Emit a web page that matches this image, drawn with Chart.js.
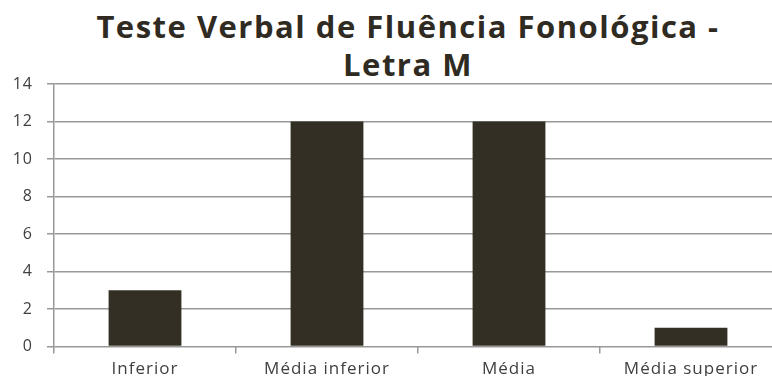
<!DOCTYPE html>
<html>
<head>
<meta charset="utf-8">
<script src="https://cdn.jsdelivr.net/npm/chart.js@4"></script>
<style>
  body { margin: 0; width: 772px; height: 376px; overflow: hidden; background: #fff; position: relative; }
  #titulo {
    position: absolute; left: 0; top: 7px; width: 816px;
    text-align: center; font: bold 31px "Open Sans", sans-serif;
    letter-spacing: 1.5px; line-height: 38px; color: #2f2b22;
  }
  #wrap { position: absolute; left: 0; top: 0; width: 800px; height: 384px; }
</style>
</head>
<body>
<div id="titulo">Teste Verbal de Fluência Fonológica -<br>Letra M</div>
<div id="wrap"><canvas id="myChart"></canvas></div>
<script>
const categorias = ['Inferior', 'Média inferior', 'Média', 'Média superior'];
const valores = [3, 12, 12, 1];
const ticksY = [0, 2, 4, 6, 8, 10, 12, 14];

const corGrade = '#989898';
const corTexto = '#404040';

// espaçamento entre letras nos rótulos dos eixos
const espacamento = {
    id: 'espacamento',
    beforeUpdate: (chart) => { chart.ctx.letterSpacing = '1px'; },
    beforeDraw: (chart) => { chart.ctx.letterSpacing = '1px'; }
};

new Chart(document.getElementById('myChart'), {
    type: 'bar',
    data: {
        labels: categorias,
        datasets: [{
            label: 'Letra M',
            data: valores,
            backgroundColor: '#332f24',
            borderWidth: 0,
            barPercentage: 0.4,
            categoryPercentage: 1
        }]
    },
    options: {
        responsive: true,
        maintainAspectRatio: false,
        animation: false,
        layout: { padding: { top: 84, right: 18, left: 0, bottom: 0 } },
        plugins: {
            legend: { display: false },
            title: { display: false },
            tooltip: { enabled: false }
        },
        scales: {
            x: {
                grid: { offset: true, drawOnChartArea: false, drawTicks: true, tickLength: 7, color: corGrade, lineWidth: 1.5 },
                border: { display: false },
                ticks: { color: corTexto, font: { family: 'Open Sans', size: 17 }, padding: 5 }
            },
            y: {
                min: 0,
                max: 14,
                afterFit: (s) => { s.width = 54; },
                afterBuildTicks: (s) => { s.ticks = ticksY.map(v => ({ value: v })); },
                grid: { color: corGrade, lineWidth: 1.5, tickLength: 7 },
                border: { color: corGrade, width: 1.5 },
                ticks: { color: corTexto, font: { family: 'Open Sans', size: 16 }, padding: 14 }
            }
        }
    },
    plugins: [espacamento]
});
</script>
</body>
</html>
